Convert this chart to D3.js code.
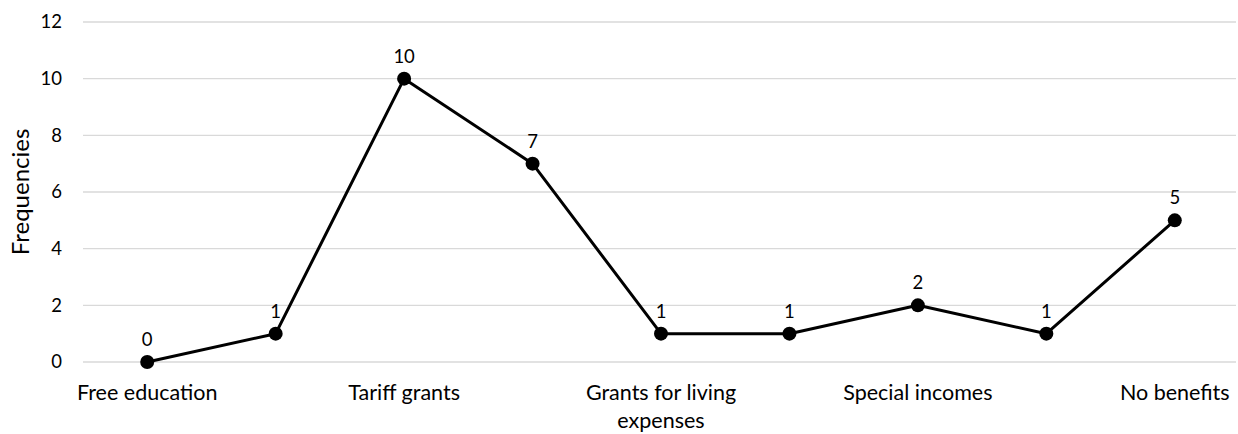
<!DOCTYPE html>
<html><head><meta charset="utf-8">
<script src="https://cdn.jsdelivr.net/npm/d3@7"></script>
<style>body{margin:0;background:#fff}svg{display:block}text{font-family:Lato,"Open Sans",sans-serif;fill:#000}</style>
</head><body><svg id="c" width="1238" height="434"></svg>
<script>
const categories = ["Free education","","Tariff grants","","Grants for living expenses","","Special incomes","","No benefits"];
const values = [0,1,10,7,1,1,2,1,5];
const yTicks = [0,2,4,6,8,10,12];
const yTitle = "Frequencies";

const W=1238,H=434, m={l:83,r:0,t:22,b:72};
const svg=d3.select("#c");
const idx=d3.range(values.length);
const x=d3.scaleBand().domain(idx).range([m.l,W-m.r+1]);
const y=d3.scaleLinear().domain([0,12]).range([H-m.b,m.t]);
const cx=i=>x(i)+x.bandwidth()/2;

// gridlines
svg.append("g").selectAll("line").data(yTicks).join("line")
  .attr("x1",m.l).attr("x2",W-2).attr("y1",d=>y(d)).attr("y2",d=>y(d))
  .attr("stroke","#d9d9d9").attr("stroke-width",1.3);

// y axis labels
const ya=svg.append("g").attr("transform",`translate(${m.l},0)`)
  .call(d3.axisLeft(y).tickValues(yTicks).tickSize(0).tickPadding(21));
ya.select(".domain").remove();
ya.selectAll("text").style("font-size","18.5px").attr("font-family","Lato");

svg.append("text").attr("transform",`translate(29,${(y(0)+y(12))/2}) rotate(-90)`)
  .attr("text-anchor","middle").style("font-size","24px").text(yTitle);

// x labels
const xl=svg.append("g");
idx.forEach(i=>{
  if(!categories[i]) return;
  const t=xl.append("text").attr("x",cx(i)).attr("y",400).attr("text-anchor","middle").style("font-size","21.5px");
  const words=categories[i].split(" ");
  let lines=[categories[i]];
  if(words.length>3){lines=[words.slice(0,3).join(" "),words.slice(3).join(" ")];}
  lines.forEach((l,k)=>t.append("tspan").attr("x",cx(i)).attr("dy",k?28:0).text(l));
});

// line
svg.append("path").datum(idx)
  .attr("d",d3.line().x(i=>cx(i)).y(i=>y(values[i])))
  .attr("fill","none").attr("stroke","#000").attr("stroke-width",3).attr("stroke-linejoin","round");
svg.append("g").selectAll("circle").data(idx).join("circle")
  .attr("cx",cx).attr("cy",i=>y(values[i])).attr("r",7).attr("fill","#000");
svg.append("g").selectAll("text").data(idx).join("text")
  .attr("x",cx).attr("y",i=>y(values[i])-16).attr("text-anchor","middle")
  .style("font-size","18.5px").text(i=>values[i]);
</script></body></html>
